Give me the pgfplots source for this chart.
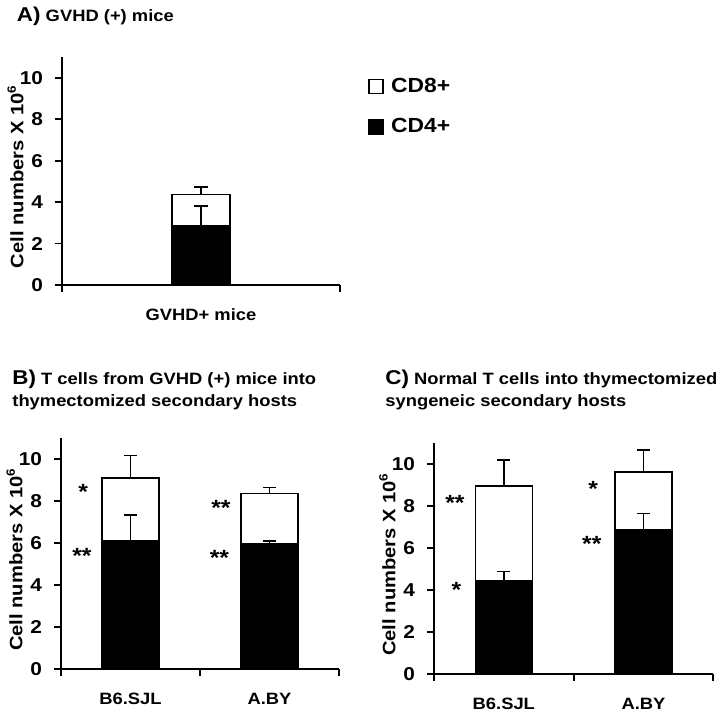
\documentclass[border=0pt]{standalone}
\usepackage{pgfplots}
\pgfplotsset{compat=1.18}
\usepackage{fontspec}
\setmainfont{Liberation Sans}[FakeStretch=1.12]
\newcommand{\tkfont}{\bfseries\fontsize{9.3}{11}\selectfont}
\newcommand{\ttlfont}{\bfseries\fontsize{8.2}{10}\selectfont}
\newcommand{\bigltr}{\fontsize{10}{12}\selectfont}
\tikzset{sig/.style={font=\bfseries\fontsize{11}{11}\selectfont, anchor=center, inner sep=0pt, yshift=-2.4pt}}
\pgfplotsset{
  panel/.style={
    scale only axis, anchor=south west,
    ymin=0, ymax=11, ytick={0,2,...,10},
    axis x line*=bottom, axis y line*=left,
    axis line style={line width=0.9pt, -},
    tick align=outside, major tick length=3.5pt,
    every tick/.style={black, line width=0.9pt},
    x tick label as interval,
    /pgf/number format/assume math mode=true,
    yticklabel style={font=\tkfont, xshift=-2.5pt},
    xticklabel style={font=\bfseries\fontsize{8.2}{10}\selectfont, yshift=-5pt},
    ylabel={Cell numbers X 10\textsuperscript{6}},
    ylabel style={font=\bfseries\fontsize{9}{11}\selectfont, at={(axis description cs:-0.167,0.476)}, anchor=center},
    clip=false,
  },
  tot/.style={ybar, bar shift=0pt, fill=white, draw=black, line width=0.8pt, forget plot,
    error bars/.cd, y dir=plus, y explicit, error mark=|,
    error bar style={line width=0.8pt, black},
    error mark options={mark size=3.3pt, line width=0.8pt, black}},
  cd/.style={ybar, bar shift=0pt, fill=black, draw=black, line width=0.8pt, forget plot,
    error bars/.cd, y dir=plus, y explicit, error mark=|,
    error bar style={line width=0.8pt, black},
    error mark options={mark size=3.3pt, line width=0.8pt, black}},
}
\begin{document}
\begin{tikzpicture}
\path[use as bounding box] (0pt,0pt) rectangle (360pt,-355.5pt);

% Titles
\node[anchor=base west, inner sep=0pt, font=\ttlfont] at (8.3pt,-10.8pt) {{\bigltr A)} GVHD (+) mice};
\node[anchor=base west, inner sep=0pt, font=\ttlfont] at (6pt,-192.5pt) {{\bigltr B)} T cells from GVHD (+) mice into};
\node[anchor=base west, inner sep=0pt, font=\ttlfont] at (6pt,-203.3pt) {thymectomized secondary hosts};
\node[anchor=base west, inner sep=0pt, font=\ttlfont] at (192.5pt,-192.5pt) {{\bigltr C)} Normal T cells into thymectomized};
\node[anchor=base west, inner sep=0pt, font=\ttlfont] at (192.5pt,-203.3pt) {syngeneic secondary hosts};

% Panel A
\begin{axis}[panel, at={(31pt,-142.5pt)}, width=139pt, height=114pt,
  xmin=0.5, xmax=1.5, xtick={0.5,1.5}, xticklabels={GVHD+ mice},
  bar width=29pt,
  legend style={at={(1.1007,0.927)}, anchor=north west, draw=none, inner sep=0pt,
    font=\bfseries\fontsize{10.2}{12}\selectfont, row sep=7.5pt, cells={anchor=west}},
  legend cell align=left]
\addplot[tot] coordinates {(1,4.37) +- (0,0.36)};
\addplot[cd] coordinates {(1,2.86) +- (0,0.96)};
\addlegendimage{legend image code/.code={\draw[fill=white, line width=0.8pt] (0pt,-3.5pt) rectangle (7pt,3.5pt); \path[draw=none] (0pt,0pt) -- (9pt,0pt);}}
\addlegendentry{CD8+}
\addlegendimage{legend image code/.code={\draw[fill=black, line width=0.8pt] (0pt,-3.5pt) rectangle (7pt,3.5pt); \path[draw=none] (0pt,0pt) -- (9pt,0pt);}}
\addlegendentry{CD4+}
\end{axis}

% Panel B
\begin{axis}[panel, at={(30.5pt,-334.65pt)}, width=139pt, height=115.5pt,
  xmin=0.5, xmax=2.5, xtick={0.5,1.5,2.5}, xticklabels={B6.SJL,A.BY},
  bar width=28.5pt]
\addplot[tot] coordinates {(1,9.12) +- (0,1.07) (2,8.38) +- (0,0.27)};
\addplot[cd] coordinates {(1,6.10) +- (0,1.24) (2,5.97) +- (0,0.13)};
\node[sig] at (axis cs:0.66,8.66) {*};
\node[sig] at (axis cs:0.65,5.62) {**};
\node[sig] at (axis cs:1.65,7.93) {**};
\node[sig] at (axis cs:1.64,5.54) {**};
\end{axis}

% Panel C
\begin{axis}[panel, at={(217pt,-337pt)}, width=139.65pt, height=115.35pt,
  xmin=0.5, xmax=2.5, xtick={0.5,1.5,2.5}, xticklabels={B6.SJL,A.BY},
  bar width=28.5pt]
\addplot[tot] coordinates {(1,8.96) +- (0,1.25) (2,9.63) +- (0,1.06)};
\addplot[cd] coordinates {(1,4.45) +- (0,0.44) (2,6.86) +- (0,0.80)};
\node[sig] at (axis cs:0.65,8.40) {**};
\node[sig] at (axis cs:0.66,4.26) {*};
\node[sig] at (axis cs:1.64,9.04) {*};
\node[sig] at (axis cs:1.63,6.41) {**};
\end{axis}
\end{tikzpicture}
\end{document}
